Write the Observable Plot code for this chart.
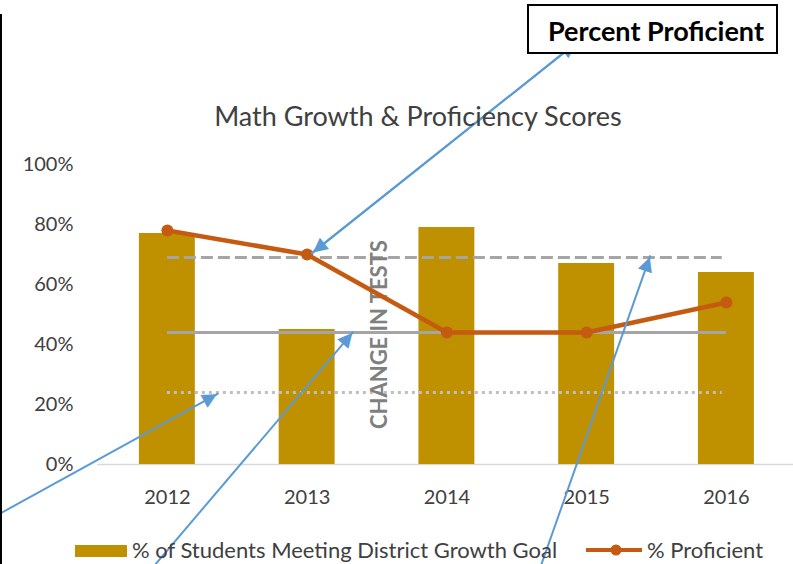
<!DOCTYPE html>
<html>
<head>
<meta charset="utf-8">
<script src="https://cdn.jsdelivr.net/npm/d3@7"></script>
<script src="https://cdn.jsdelivr.net/npm/@observablehq/plot@0.6"></script>
<style>
  html, body { margin: 0; padding: 0; background: #fff; }
  #wrap { position: relative; width: 793px; height: 564px; overflow: hidden; font-family: Lato, sans-serif; }
  #chart { position: absolute; left: 0; top: 0; }
  .abs { position: absolute; white-space: nowrap; }
</style>
</head>
<body>
<div id="wrap">
  <div id="chart"></div>
  <div class="abs" style="left:0;top:14px;width:2px;height:550px;background:#000;"></div>
  <div class="abs" id="title" style="left:0;width:836px;top:99px;text-align:center;font-size:27px;line-height:34px;color:#404040;">Math Growth &amp; Proficiency Scores</div>
  <div class="abs" style="left:527px;top:4px;width:247px;height:46px;border:2px solid #000;background:#fff;"></div>
  <div class="abs" id="boxText" style="left:548px;top:14px;font-size:27px;line-height:34px;font-weight:bold;color:#000;">Percent Proficient</div>
  <div class="abs" style="left:75px;top:545px;width:52px;height:12px;background:#BF9000;"></div>
  <div class="abs" id="leg1" style="left:132px;top:537px;font-size:22px;line-height:26px;color:#404040;">% of Students Meeting District Growth Goal</div>
  <svg class="abs" style="left:586px;top:542px;" width="56" height="16"><line x1="0" y1="8" x2="56" y2="8" stroke="#C55A11" stroke-width="4"/><circle cx="30" cy="8" r="5.5" fill="#C55A11"/></svg>
  <div class="abs" id="leg2" style="left:647px;top:537px;font-size:22px;line-height:26px;color:#404040;">% Proficient</div>
</div>
<script>
// ---- data ----
const years = [2012, 2013, 2014, 2015, 2016];
const growthGoal = [77, 45, 79, 67, 64];       // % of Students Meeting District Growth Goal
const proficient = [78, 70, 44, 44, 54];       // % Proficient
const yTicks = [0, 20, 40, 60, 80, 100];
const refDashed = 69;   // dashed target line
const refSolid = 44;    // solid line
const refDotted = 24;   // dotted line
const noteText = "CHANGE IN TESTS";
// annotation arrows (year, percent) : tail -> tip
const arrowTailX = [2013.03, 2014.93, 2010.805, 2011.914, 2014.676];
const arrowTailY = [70.3, 140.7, -16.3, -33.3, -33.3];
const arrowTipX  = [2014.93, 2013.03, 2012.365, 2013.331, 2015.456];
const arrowTipY  = [140.7, 70.3, 23.7, 44.3, 69.7];

const rows = years.map((y, i) => ({year: y, growth: growthGoal[i], prof: proficient[i]}));
const arrows = arrowTipX.map((x, i) => ({x1: arrowTailX[i], y1: arrowTailY[i], x2: x, y2: arrowTipY[i]}));

const W = 793, H = 564;
const xDomain = [2011.5, 2016.48];
const mL = 97, mR = 0, mT = 164, mB = 100;
const sx = Plot.scale({x: {type: "linear", domain: xDomain, range: [mL, W - mR]}});
const sy = Plot.scale({y: {type: "linear", domain: [0, 100], range: [H - mB, mT]}});

// arrowhead positions / rotation
const heads = arrows.map(a => {
  const px1 = sx.apply(a.x1), py1 = sy.apply(a.y1), px2 = sx.apply(a.x2), py2 = sy.apply(a.y2);
  const dx = px2 - px1, dy = py2 - py1, L = Math.hypot(dx, dy);
  const ux = dx / L, uy = dy / L;
  const cx = px2 - ux * 8, cy = py2 - uy * 8;
  return {x: sx.invert(cx), y: sy.invert(cy), angle: Math.atan2(ux, -uy) * 180 / Math.PI};
});

const chart = Plot.plot({
  width: W, height: H,
  marginLeft: mL, marginRight: mR, marginTop: mT, marginBottom: mB,
  style: {fontFamily: "Lato, sans-serif", fontSize: "20px", color: "#404040", background: "transparent", overflow: "visible"},
  x: {domain: xDomain, ticks: years, tickFormat: d => String(d), tickSize: 0, tickPadding: 25, label: null, line: false},
  y: {domain: [0, 100], ticks: yTicks, tickFormat: d => d + "%", tickSize: 0, tickPadding: 24, label: null},
  marks: [
    Plot.ruleY([0], {stroke: "#d9d9d9", strokeWidth: 1.5}),
    Plot.rectY(rows, {x1: d => d.year - 0.2, x2: d => d.year + 0.2, y: "growth", fill: "#BF9000"}),
    Plot.ruleY([refDashed], {x1: years[0], x2: years[4] - 0.03, stroke: "#A5A5A5", strokeWidth: 3, strokeDasharray: "12,5"}),
    Plot.ruleY([refSolid], {x1: years[0], x2: years[4], stroke: "#A5A5A5", strokeWidth: 3}),
    Plot.ruleY([refDotted], {x1: years[0], x2: years[4] - 0.03, stroke: "#BFBFBF", strokeWidth: 3, strokeDasharray: "3,4"}),
    Plot.text([noteText], {x: 2013.52, y: 43.3, rotate: -90, fill: "#7F7F7F", fontWeight: "bold", fontSize: 22, textAnchor: "middle", letterSpacing: "1px"}),
    Plot.line(rows, {x: "year", y: "prof", stroke: "#C55A11", strokeWidth: 4.5}),
    Plot.dot(rows, {x: "year", y: "prof", r: 6, fill: "#C55A11"}),
    Plot.link(arrows, {x1: "x1", y1: "y1", x2: "x2", y2: "y2", stroke: "#5B9BD5", strokeWidth: 2, clip: false}),
    Plot.text(heads, {x: "x", y: "y", rotate: "angle", text: () => "\u25B2", fill: "#5B9BD5", fontSize: 19, fontFamily: "DejaVu Sans", lineAnchor: "middle", clip: false})
  ]
});
document.getElementById("chart").appendChild(chart);
</script>
</body>
</html>
